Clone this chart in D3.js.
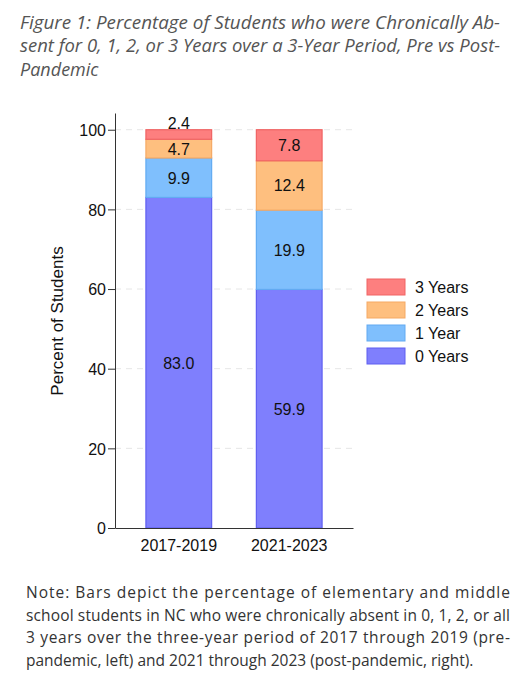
<!DOCTYPE html>
<html>
<head>
<meta charset="utf-8">
<script src="https://cdn.jsdelivr.net/npm/d3@7"></script>
<style>
  body { margin: 0; background: #fff; }
  svg text { font-family: "Liberation Sans", Arial, sans-serif; }
</style>
</head>
<body>
<script>
// periods on the x axis
var periods = ["2017-2019", "2021-2023"];
// series, bottom to top
var seriesNames = ["0 Years", "1 Year", "2 Years", "3 Years"];
var yearsZero = [83.0, 59.9];
var yearsOne = [9.9, 19.9];
var yearsTwo = [4.7, 12.4];
var yearsThree = [2.4, 7.8];
var yTicks = [0, 20, 40, 60, 80, 100];

var fills = ["#7f7ffd", "#7fbffd", "#febf7f", "#fd7f7f"];
var strokes = ["#5f5ff0", "#62aaf2", "#f5a965", "#f06464"];

var titleLines = [
  "Figure 1: Percentage of Students who were Chronically Ab-",
  "sent for 0, 1, 2, or 3 Years over a 3-Year Period, Pre vs Post-",
  "Pandemic"
];
var noteLines = [
  "Note: Bars depict the percentage of elementary and middle",
  "school students in NC who were chronically absent in 0, 1, 2, or all",
  "3 years over the three-year period of 2017 through 2019 (pre-",
  "pandemic, left) and 2021 through 2023 (post-pandemic, right)."
];

var W = 527, H = 680;
var svg = d3.select("body").append("svg").attr("width", W).attr("height", H);

// title (justified lines except last)
svg.selectAll(".title")
  .data(titleLines)
  .enter()
  .append("text")
  .attr("class", "title")
  .attr("x", 20)
  .attr("y", (d, i) => 29 + i * 23.3)
  .attr("fill", "#555")
  .style("font-family", "'Open Sans', sans-serif")
  .style("font-style", "italic")
  .style("font-size", "18px")
  .attr("textLength", (d, i) => (i < titleLines.length - 1 ? 480 : null))
  .attr("lengthAdjust", "spacingAndGlyphs")
  .text((d) => d);

// plot area
var plot = { left: 115, right: 353, top: 113, bottom: 528 };
var y = d3.scaleLinear().domain([0, 104.2]).range([plot.bottom, plot.top]);
var x = d3.scaleBand().domain(periods).range([plot.left, plot.right]).paddingInner(0.405).paddingOuter(0.28);

var g = svg.append("g");

// dashed grid
g.selectAll(".grid")
  .data(yTicks.slice(1))
  .enter()
  .append("line")
  .attr("x1", plot.left)
  .attr("x2", plot.right)
  .attr("y1", (d) => y(d))
  .attr("y2", (d) => y(d))
  .attr("stroke", "#e6e6e6")
  .attr("stroke-dasharray", "6,5");

// stacking
var rows = periods.map(function (p, i) {
  return {
    period: p,
    "0 Years": yearsZero[i],
    "1 Year": yearsOne[i],
    "2 Years": yearsTwo[i],
    "3 Years": yearsThree[i]
  };
});
var stacked = d3.stack().keys(seriesNames)(rows);

var layer = g.selectAll(".layer")
  .data(stacked)
  .enter()
  .append("g")
  .attr("fill", (d, i) => fills[i])
  .attr("stroke", (d, i) => strokes[i]);

layer.selectAll("rect")
  .data((d) => d)
  .enter()
  .append("rect")
  .attr("x", (d) => x(d.data.period))
  .attr("width", x.bandwidth())
  .attr("y", (d) => y(d[1]))
  .attr("height", (d) => y(d[0]) - y(d[1]))
  .attr("stroke-width", 1.2);

// value labels: centered, or just above the bar when segment is too thin
stacked.forEach(function (s) {
  g.selectAll(".lbl-" + s.index)
    .data(s)
    .enter()
    .append("text")
    .attr("x", (d) => x(d.data.period) + x.bandwidth() / 2)
    .attr("y", function (d) {
      var h = y(d[0]) - y(d[1]);
      return h < 14 ? y(d[1]) - 1 : (y(d[0]) + y(d[1])) / 2 + 6;
    })
    .attr("text-anchor", "middle")
    .attr("fill", "#111")
    .style("font-size", "16px")
    .text((d) => (d[1] - d[0]).toFixed(1));
});

// axes
var yAxis = g.append("g")
  .attr("transform", "translate(" + plot.left + ",0)")
  .call(d3.axisLeft(y).tickValues(yTicks).tickSize(7).tickSizeOuter(0));
yAxis.select(".domain").attr("stroke", "#333");
yAxis.selectAll(".tick line").attr("stroke", "#333");
yAxis.selectAll(".tick text").style("font-size", "16px").attr("fill", "#111").attr("x", -9).attr("dy", "0.36em");

var xAxis = g.append("g")
  .attr("transform", "translate(0," + plot.bottom + ")")
  .call(d3.axisBottom(x).tickSize(0).tickSizeOuter(0));
xAxis.select(".domain").attr("stroke", "#333");
xAxis.selectAll(".tick text").style("font-size", "16px").attr("fill", "#111").attr("dy", "1.25em");

// y label
svg.append("text")
  .attr("transform", "translate(63,321) rotate(-90)")
  .attr("text-anchor", "middle")
  .attr("fill", "#111")
  .style("font-size", "17px")
  .text("Percent of Students");

// legend (top to bottom: 3 Years ... 0 Years)
var legendOrder = seriesNames.map((d, i) => i).reverse();
var legend = svg.selectAll(".legend")
  .data(legendOrder)
  .enter()
  .append("g")
  .attr("transform", (d, i) => "translate(367," + (279 + i * 23) + ")");
legend.append("rect")
  .attr("width", 38)
  .attr("height", 16)
  .attr("fill", (d) => fills[d])
  .attr("stroke", (d) => strokes[d]);
legend.append("text")
  .attr("x", 48)
  .attr("y", 14)
  .attr("fill", "#111")
  .style("font-size", "16px")
  .text((d) => seriesNames[d]);

// note
svg.selectAll(".note")
  .data(noteLines)
  .enter()
  .append("text")
  .attr("x", 26)
  .attr("y", (d, i) => 598 + i * 22.7)
  .attr("fill", "#333")
  .style("font-family", "'Open Sans', sans-serif")
  .style("font-size", "15.5px")
  .attr("textLength", (d, i) => (i < noteLines.length - 1 ? 484 : null))
  .attr("lengthAdjust", "spacing")
  .text((d) => d);
</script>
</body>
</html>
